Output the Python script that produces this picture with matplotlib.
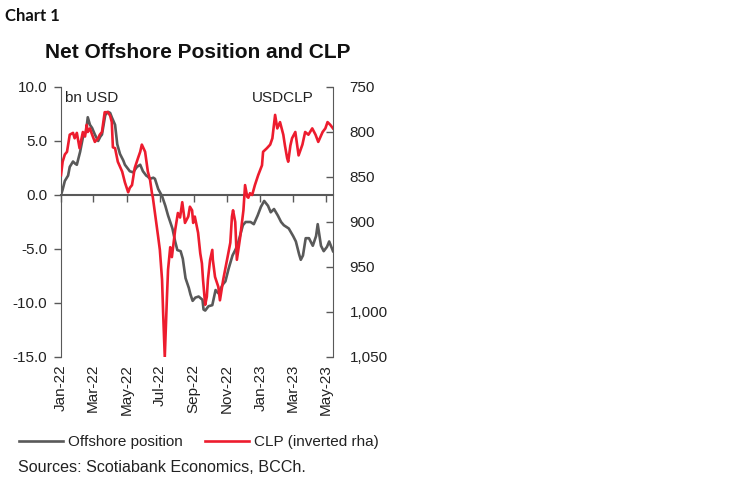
import pandas as pd
import matplotlib.pyplot as plt
import matplotlib.dates as mdates
from matplotlib.ticker import FuncFormatter, MultipleLocator

plt.rcParams['font.family'] = ['Liberation Sans', 'DejaVu Sans']

# Net offshore position, bn USD (left axis)
pos_dates = [
    '2022-01-01', '2022-01-04', '2022-01-08', '2022-01-14', '2022-01-17', '2022-01-23',
    '2022-01-27', '2022-01-30', '2022-02-05', '2022-02-10', '2022-02-16', '2022-02-19',
    '2022-02-23', '2022-02-27', '2022-03-04', '2022-03-10', '2022-03-14', '2022-03-17',
    '2022-03-23', '2022-03-28', '2022-04-01', '2022-04-04', '2022-04-10', '2022-04-14',
    '2022-04-19', '2022-04-25', '2022-04-28', '2022-05-04', '2022-05-07', '2022-05-13',
    '2022-05-20', '2022-05-26', '2022-05-31', '2022-06-06', '2022-06-09', '2022-06-13',
    '2022-06-19', '2022-06-22', '2022-06-28', '2022-07-05', '2022-07-11', '2022-07-16',
    '2022-07-24', '2022-07-29', '2022-08-02', '2022-08-08', '2022-08-12', '2022-08-17',
    '2022-08-23', '2022-08-26', '2022-08-30', '2022-09-04', '2022-09-10', '2022-09-17',
    '2022-09-19', '2022-09-22', '2022-09-28', '2022-10-05', '2022-10-11', '2022-10-16',
    '2022-10-24', '2022-10-29', '2022-11-04', '2022-11-11', '2022-11-17', '2022-11-22',
    '2022-11-30', '2022-12-05', '2022-12-14', '2022-12-20', '2022-12-27', '2023-01-02',
    '2023-01-08', '2023-01-15', '2023-01-20', '2023-01-26', '2023-02-02', '2023-02-08',
    '2023-02-13', '2023-02-22', '2023-03-02', '2023-03-07', '2023-03-13', '2023-03-16',
    '2023-03-20', '2023-03-25', '2023-03-31', '2023-04-07', '2023-04-13', '2023-04-16',
    '2023-04-22', '2023-04-27', '2023-05-03', '2023-05-07', '2023-05-14',
]
offshore = [
    0.0, 0.5, 1.3, 1.8, 2.6, 3.1,
    2.9, 2.8, 4.0, 5.3, 5.9, 7.2,
    6.5, 6.2, 5.6, 5.0, 5.4, 5.6,
    7.4, 7.7, 7.6, 7.2, 6.5, 4.7,
    3.8, 3.2, 2.8, 2.4, 2.2, 2.1,
    2.6, 2.8, 2.2, 1.8, 1.7, 1.5,
    1.6, 1.5, 0.55, -0.1, -1.0, -1.9,
    -3.1, -4.3, -5.1, -5.2, -5.9, -7.7,
    -8.6, -9.2, -9.8, -9.5, -9.4, -9.7,
    -10.6, -10.7, -10.3, -10.2, -8.8, -9.1,
    -8.3, -8.0, -6.8, -5.6, -5.0, -4.3,
    -2.8, -2.5, -2.5, -2.7, -1.9, -1.1,
    -0.55, -1.0, -1.6, -1.3, -1.9, -2.5,
    -2.8, -3.1, -3.8, -4.3, -5.5, -6.0,
    -5.6, -4.0, -4.0, -4.7, -3.8, -2.7,
    -4.7, -5.2, -4.8, -4.3, -5.2,
]

# USDCLP (right axis, inverted)
clp_dates = [
    '2022-01-01', '2022-01-04', '2022-01-08', '2022-01-12', '2022-01-17', '2022-01-23',
    '2022-01-26', '2022-01-30', '2022-02-04', '2022-02-10', '2022-02-14', '2022-02-17',
    '2022-02-19', '2022-02-23', '2022-02-27', '2022-03-04', '2022-03-10', '2022-03-13',
    '2022-03-17', '2022-03-22', '2022-03-28', '2022-04-01', '2022-04-04', '2022-04-06',
    '2022-04-10', '2022-04-15', '2022-04-23', '2022-04-28', '2022-05-04', '2022-05-07',
    '2022-05-11', '2022-05-16', '2022-05-22', '2022-05-26', '2022-05-29', '2022-06-04',
    '2022-06-09', '2022-06-13', '2022-06-17', '2022-06-18', '2022-06-22', '2022-06-28',
    '2022-07-01', '2022-07-05', '2022-07-07', '2022-07-10', '2022-07-14', '2022-07-16',
    '2022-07-20', '2022-07-23', '2022-07-29', '2022-08-03', '2022-08-07', '2022-08-11',
    '2022-08-16', '2022-08-22', '2022-08-25', '2022-08-29', '2022-08-31', '2022-09-03',
    '2022-09-09', '2022-09-13', '2022-09-16', '2022-09-18', '2022-09-22', '2022-09-25',
    '2022-09-27', '2022-10-01', '2022-10-05', '2022-10-06', '2022-10-10', '2022-10-16',
    '2022-10-19', '2022-10-25', '2022-11-01', '2022-11-07', '2022-11-10', '2022-11-12',
    '2022-11-16', '2022-11-19', '2022-11-25', '2022-12-01', '2022-12-04', '2022-12-08',
    '2022-12-10', '2022-12-13', '2022-12-17', '2022-12-22', '2022-12-28', '2023-01-04',
    '2023-01-06', '2023-01-13', '2023-01-19', '2023-01-23', '2023-01-28', '2023-02-01',
    '2023-02-06', '2023-02-12', '2023-02-15', '2023-02-19', '2023-02-21', '2023-02-25',
    '2023-02-28', '2023-03-06', '2023-03-12', '2023-03-19', '2023-03-24', '2023-03-30',
    '2023-04-06', '2023-04-12', '2023-04-17', '2023-04-25', '2023-04-30', '2023-05-04',
    '2023-05-09', '2023-05-14',
]
usdclp = [
    848, 833, 825, 822, 803, 801,
    807, 801, 818, 800, 805, 792,
    800, 796, 803, 811, 807, 803,
    800, 778, 778, 782, 789, 817,
    818, 833, 844, 856, 867, 862,
    859, 840, 829, 822, 814, 822,
    844, 853, 870, 872, 890, 917,
    931, 964, 1001, 1050, 983, 953,
    928, 939, 909, 890, 895, 878,
    901, 894, 883, 887, 901, 894,
    912, 935, 946, 964, 992, 983,
    964, 942, 931, 942, 961, 972,
    987, 964, 942, 923, 894, 887,
    900, 942, 917, 887, 859, 872,
    873, 868, 870, 859, 848, 837,
    822, 818, 814, 807, 781, 796,
    789, 803, 815, 829, 833, 815,
    807, 800, 826, 814, 800, 803,
    796, 803, 811, 800, 796, 789,
    792, 796,
]

pos_dates = pd.to_datetime(pos_dates)
clp_dates = pd.to_datetime(clp_dates)

gray = '#595959'
red = '#ed1c2e'

fig = plt.figure(figsize=(7.48, 4.83), dpi=100)
ax = fig.add_axes([61 / 748, 1 - 357 / 483, 272 / 748, 270 / 483])
ax2 = ax.twinx()

ax.plot(pos_dates, offshore, color=gray, lw=1.9, label='Offshore position')
ax2.plot(clp_dates, usdclp, color=red, lw=1.9, label='CLP (inverted rha)')

ax.set_xlim(pd.Timestamp('2022-01-01'), pd.Timestamp('2023-05-14'))
ax.set_ylim(-15, 10)
ax2.set_ylim(1050, 750)

# left axis
ax.yaxis.set_major_locator(MultipleLocator(5))
ax.yaxis.set_major_formatter(FuncFormatter(lambda v, p: f'{v:.1f}'))
ax.tick_params(axis='y', direction='out', length=5, width=1, color=gray,
               labelsize=11, labelcolor='#222222', pad=5)

# right axis
ax2.yaxis.set_major_locator(MultipleLocator(50))
ax2.yaxis.set_major_formatter(FuncFormatter(lambda v, p: f'{v:,.0f}'))
ax2.tick_params(axis='y', direction='in', length=5, width=1, color=gray,
                labelsize=11, labelcolor='#222222', pad=12)

# month labels at the bottom, no ticks there
ax.xaxis.set_major_locator(mdates.MonthLocator(bymonth=[1, 3, 5, 7, 9, 11]))
ax.xaxis.set_major_formatter(mdates.DateFormatter('%b-%y'))
ax.tick_params(axis='x', length=0, labelsize=11, labelcolor='#222222',
               labelrotation=90, pad=5)

for s in ['top', 'bottom']:
    ax.spines[s].set_visible(False)
    ax2.spines[s].set_visible(False)
ax.spines['left'].set_color(gray)
ax2.spines['right'].set_color(gray)
ax2.spines['left'].set_visible(False)
ax.spines['right'].set_visible(False)

# zero line with the month ticks
zero = ax.secondary_xaxis(15 / 25)
zero.xaxis.set_major_locator(mdates.MonthLocator(bymonth=[1, 3, 5, 7, 9, 11]))
zero.tick_params(axis='x', direction='in', length=5, width=1, color=gray,
                 labeltop=False, labelbottom=False)
for s in zero.spines.values():
    s.set_color(gray)
    s.set_linewidth(1.5)

ax.text(0.015, 0.985, 'bn USD', transform=ax.transAxes, ha='left', va='top',
        fontsize=11, color='#222222')
ax.text(0.93, 0.985, 'USDCLP', transform=ax.transAxes, ha='right', va='top',
        fontsize=11, color='#222222')

fig.text(198 / 748, 1 - 53 / 483, 'Net Offshore Position and CLP', ha='center',
         va='center', fontsize=15, fontweight='bold', color='#111111')
fig.text(5 / 748, 1 - 16 / 483, 'Chart 1', ha='left', va='center', fontsize=12,
         fontweight='bold', family=['Lato', 'DejaVu Sans'], color='#111111')

h1, l1 = ax.get_legend_handles_labels()
h2, l2 = ax2.get_legend_handles_labels()
fig.legend(h1 + h2, l1 + l2, loc='center left', bbox_to_anchor=(5 / 748, 1 - 442 / 483),
           ncol=2, frameon=False, fontsize=11, handlelength=2.9, columnspacing=1.4,
           handletextpad=0.35, labelcolor='#222222')

fig.text(18 / 748, 1 - 467 / 483, 'Sources: Scotiabank Economics, BCCh.', ha='left',
         va='center', fontsize=11.6, color='#222222')

fig.savefig('out.png', dpi=100)
